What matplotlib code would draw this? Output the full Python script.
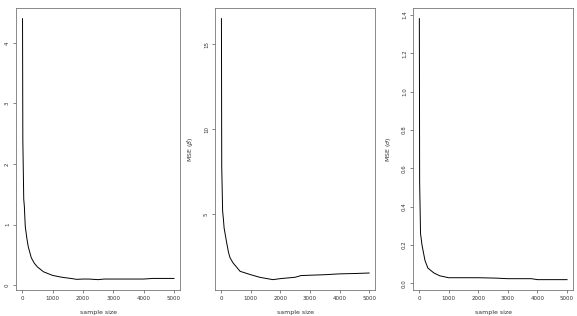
import matplotlib
matplotlib.use("Agg")
import matplotlib.pyplot as plt

# sample sizes and MSE
n1 = [10, 20, 50, 70, 100, 150, 200, 300, 400, 500, 700, 1000, 1300, 1600, 1800, 2000,
      2200, 2500, 2700, 3000, 3500, 4000, 4300, 4500, 5000]
mse1 = [4.4, 2.4, 1.42, 1.3, 0.97, 0.78, 0.63, 0.45, 0.36, 0.3, 0.22, 0.16, 0.13, 0.11,
        0.095, 0.1, 0.1, 0.09, 0.1, 0.1, 0.1, 0.1, 0.11, 0.11, 0.11]

n2 = [10, 20, 50, 80, 100, 150, 190, 250, 300, 400, 640, 1000, 1300, 1750, 2000, 2500,
      2700, 3000, 3500, 4000, 4500, 5000]
mse2 = [16.5, 7.8, 5.2, 4.65, 4.2, 3.7, 3.3, 2.75, 2.45, 2.15, 1.65, 1.45, 1.3, 1.16,
        1.22, 1.3, 1.4, 1.42, 1.45, 1.5, 1.52, 1.55]

n3 = [10, 20, 50, 100, 200, 300, 500, 700, 1000, 1500, 2000, 2600, 3000, 3800, 4000,
      4500, 5000]
mse3 = [1.38, 0.53, 0.26, 0.2, 0.12, 0.08, 0.055, 0.04, 0.03, 0.03, 0.03, 0.028, 0.025,
        0.025, 0.02, 0.02, 0.02]

y_labels = [None, r"MSE ($\hat{\beta}$)", r"MSE ($\hat{\sigma}$)"]
y_ticks = [[0, 1, 2, 3, 4], [5, 10, 15], [0.0, 0.2, 0.4, 0.6, 0.8, 1.0, 1.2, 1.4]]
y_fmt = ["{:.0f}", "{:.0f}", "{:.1f}"]

fig = plt.figure(figsize=(5.77, 3.16), dpi=100)
boxes = [[0.028, 0.082, 0.284, 0.892],
         [0.373, 0.082, 0.277, 0.892],
         [0.716, 0.082, 0.277, 0.892]]

data = [(n1, mse1), (n2, mse2), (n3, mse3)]
for i, (xs, ys) in enumerate(data):
    ax = fig.add_axes(boxes[i])
    ax.plot(xs, ys, color="black", lw=0.7)
    ax.set_xlim(-200, 5200)
    ax.margins(y=0.04)
    ax.set_xticks([0, 1000, 2000, 3000, 4000, 5000])
    ax.set_yticks(y_ticks[i])
    ax.set_yticklabels([y_fmt[i].format(t) for t in y_ticks[i]], rotation=90, va="center")
    ax.tick_params(labelsize=4, length=2.5, width=0.5, color="#555555",
                   labelcolor="#333333", pad=2)
    for s in ax.spines.values():
        s.set_color("#777777")
        s.set_linewidth(0.6)
    ax.set_xlabel("sample size", fontsize=4.5, color="#333333", labelpad=6)
    if y_labels[i]:
        ax.set_ylabel(y_labels[i], fontsize=4.5, color="#333333", labelpad=6)

fig.savefig("out.png", dpi=100)
